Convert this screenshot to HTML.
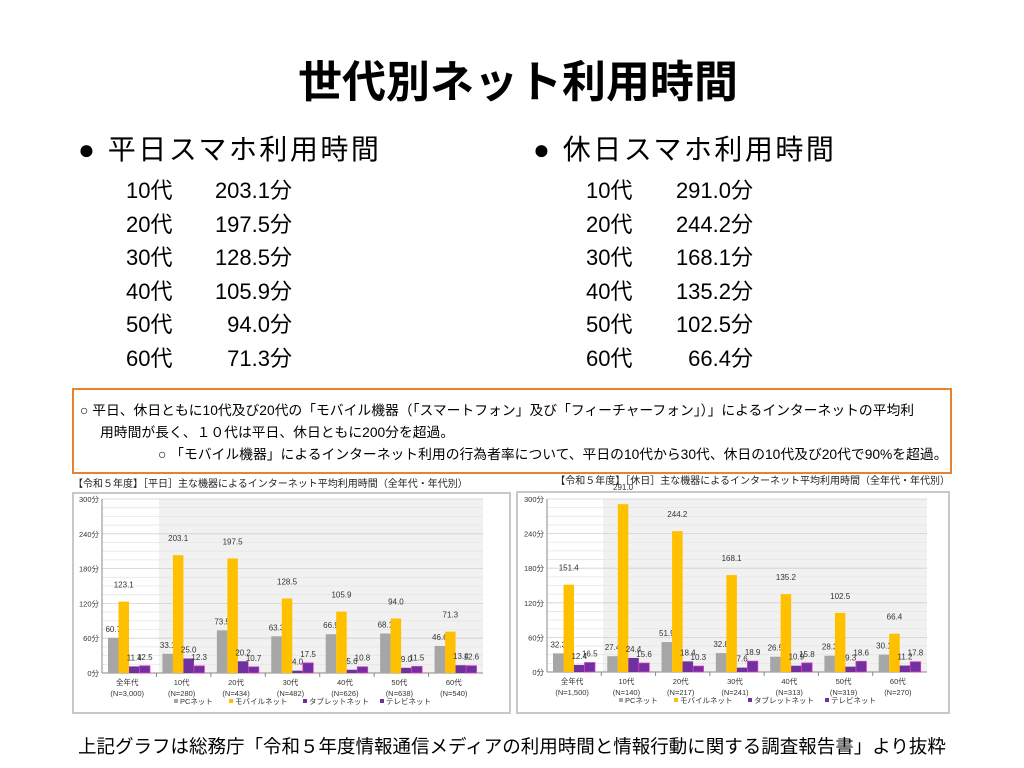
<!DOCTYPE html>
<html><head><meta charset="utf-8">
<style>
html,body{margin:0;padding:0;background:#fff;}
body{width:1024px;height:768px;position:relative;overflow:hidden;font-family:"Liberation Sans","Noto Sans CJK JP",sans-serif;color:#000;}
.a{position:absolute;white-space:nowrap;}
.title{left:6px;width:1024px;text-align:center;top:46px;font-size:44px;font-weight:bold;}
.h{font-size:28px;letter-spacing:2.5px;}
.r{font-size:22px;}
.box{left:72px;top:388px;width:876px;height:82px;border:2px solid #e8822f;}
.bt{font-size:13.8px;}
</style></head><body>
<div class="a title">世代別ネット利用時間</div>
<div class="a h" style="left:78px;top:128px">● 平日スマホ利用時間</div>
<div class="a h" style="left:533px;top:128px">● 休日スマホ利用時間</div>
<div id="rows"></div>
<div class="a box"></div>
<div class="a bt" style="left:80px;top:399px">○ 平日、休日ともに10代及び20代の「モバイル機器（「スマートフォン」及び「フィーチャーフォン」）」によるインターネットの平均利</div>
<div class="a bt" style="left:100px;top:421px">用時間が長く、１０代は平日、休日ともに200分を超過。</div>
<div class="a bt" style="left:158px;top:443px">○ 「モバイル機器」によるインターネット利用の行為者率について、平日の10代から30代、休日の10代及び20代で90%を超過。</div>
<svg id="sv" class="a" style="left:0;top:0" width="1024" height="768" font-family="Liberation Sans, Noto Sans CJK JP, sans-serif"></svg>
<div class="a" style="left:78px;top:733px;font-size:18.5px">上記グラフは総務庁「令和５年度情報通信メディアの利用時間と情報行動に関する調査報告書」より抜粋</div>
<script>
var rows=document.getElementById('rows');
var L=[["10代","203.1分"],["20代","197.5分"],["30代","128.5分"],["40代","105.9分"],["50代","94.0分"],["60代","71.3分"]];
var R=[["10代","291.0分"],["20代","244.2分"],["30代","168.1分"],["40代","135.2分"],["50代","102.5分"],["60代","66.4分"]];
var h='';
for(var i=0;i<6;i++){var y=173+i*33.5;
h+='<div class="a r" style="left:126px;top:'+y+'px">'+L[i][0]+'</div><div class="a r" style="left:180px;width:112px;text-align:right;top:'+y+'px">'+L[i][1]+'</div>';
h+='<div class="a r" style="left:586px;top:'+y+'px">'+R[i][0]+'</div><div class="a r" style="left:640px;width:113px;text-align:right;top:'+y+'px">'+R[i][1]+'</div>';}
rows.innerHTML=h;
var s='';
var cols=['#a6a6a6','#ffc000','#7030a0','#7030a0'];
function chart(o){
 s+='<text x="'+o.tx+'" y="'+o.ty+'" font-size="10" fill="#222" text-anchor="'+o.ta+'">'+o.title+'</text>';
 s+='<rect x="'+o.fx+'" y="'+o.fy+'" width="'+o.fw+'" height="'+o.fh+'" fill="#fff" stroke="#c8c8c8" stroke-width="2"/>';
 s+='<rect x="'+o.sx+'" y="'+o.y3+'" width="'+(o.x1-o.sx)+'" height="'+(o.y0-o.y3)+'" fill="#f1f1f1"/>';
 var k=(o.y0-o.y3)/300;
 for(var v=0;v<=300;v+=15){var y=o.y0-v*k;s+='<line x1="'+o.x0+'" x2="'+o.x1+'" y1="'+y+'" y2="'+y+'" stroke="'+(v%60?'#e6e6e6':'#d0d0d0')+'" stroke-width="0.8"/>';
 if(v%60==0)s+='<text x="'+(o.x0-3)+'" y="'+(y+3)+'" font-size="7.5" text-anchor="end" fill="#333">'+v+'分</text>';}
 s+='<line x1="'+o.x0+'" x2="'+o.x0+'" y1="'+o.y3+'" y2="'+o.y0+'" stroke="#888"/><line x1="'+o.x0+'" x2="'+o.x1+'" y1="'+o.y0+'" y2="'+o.y0+'" stroke="#888"/>';
 var gw=(o.x1-o.x0)/7,bw=10.5;
 for(var g=0;g<7;g++){var gx=o.x0+g*gw,st=gx+6;
  if(g>0)s+='<line x1="'+gx+'" x2="'+gx+'" y1="'+o.y0+'" y2="'+(o.y0+4)+'" stroke="#888"/>';
  for(var b=0;b<4;b++){var v=o.d[g][b],bx=st+b*bw,by=o.y0-v*k;
   s+='<rect x="'+bx+'" y="'+by+'" width="'+bw+'" height="'+(v*k)+'" fill="'+cols[b]+'"'+(b==3?' stroke="#e040c0" stroke-width="0.8"':'')+'/>';
   var ly=(b==1)?by-14:by-6; s+='<text x="'+(bx+bw/2)+'" y="'+ly+'" font-size="8" text-anchor="middle" fill="#333">'+v.toFixed(1)+'</text>';}
  var cx=gx+gw/2-2;
  s+='<text x="'+cx+'" y="'+(o.y0+12)+'" font-size="7.5" text-anchor="middle" fill="#333">'+o.lab[g]+'</text>';
  s+='<text x="'+cx+'" y="'+(o.y0+23)+'" font-size="7.5" text-anchor="middle" fill="#333">'+o.n[g]+'</text>';}
 var lx=o.x0+72,ly=o.y0+31,names=['PCネット','モバイルネット','タブレットネット','テレビネット'],off=[0,55,129,206];
 for(var i=0;i<4;i++){s+='<rect x="'+(lx+off[i])+'" y="'+(ly-5)+'" width="4" height="4" fill="'+cols[i]+'"/><text x="'+(lx+off[i]+6)+'" y="'+ly+'" font-size="7.5" fill="#333">'+names[i]+'</text>';}
}
var lab=['全年代','10代','20代','30代','40代','50代','60代'];
chart({title:'【令和５年度】［平日］主な機器によるインターネット平均利用時間（全年代・年代別）',tx:73,ty:487,ta:'start',fx:73,fy:493,fw:437,fh:220,sx:159,x0:102,x1:483,y0:673,y3:499,lab:lab,
n:['(N=3,000)','(N=280)','(N=434)','(N=482)','(N=626)','(N=638)','(N=540)'],
d:[[60.7,123.1,11.4,12.5],[33.1,203.1,25.0,12.3],[73.5,197.5,20.2,10.7],[63.3,128.5,4.0,17.5],[66.9,105.9,5.6,10.8],[68.1,94.0,9.0,11.5],[46.6,71.3,13.4,12.6]]});
chart({title:'【令和５年度】［休日］主な機器によるインターネット平均利用時間（全年代・年代別）',tx:950,ty:484,ta:'end',fx:517,fy:492,fw:432,fh:221,sx:603,x0:547,x1:927,y0:672,y3:499,lab:lab,
n:['(N=1,500)','(N=140)','(N=217)','(N=241)','(N=313)','(N=319)','(N=270)'],
d:[[32.3,151.4,12.4,16.5],[27.4,291.0,24.4,15.6],[51.9,244.2,18.4,10.3],[32.8,168.1,7.6,18.9],[26.5,135.2,10.9,15.8],[28.3,102.5,9.3,18.6],[30.1,66.4,11.2,17.8]]});
document.getElementById('sv').innerHTML=s;
</script>
</body></html>
